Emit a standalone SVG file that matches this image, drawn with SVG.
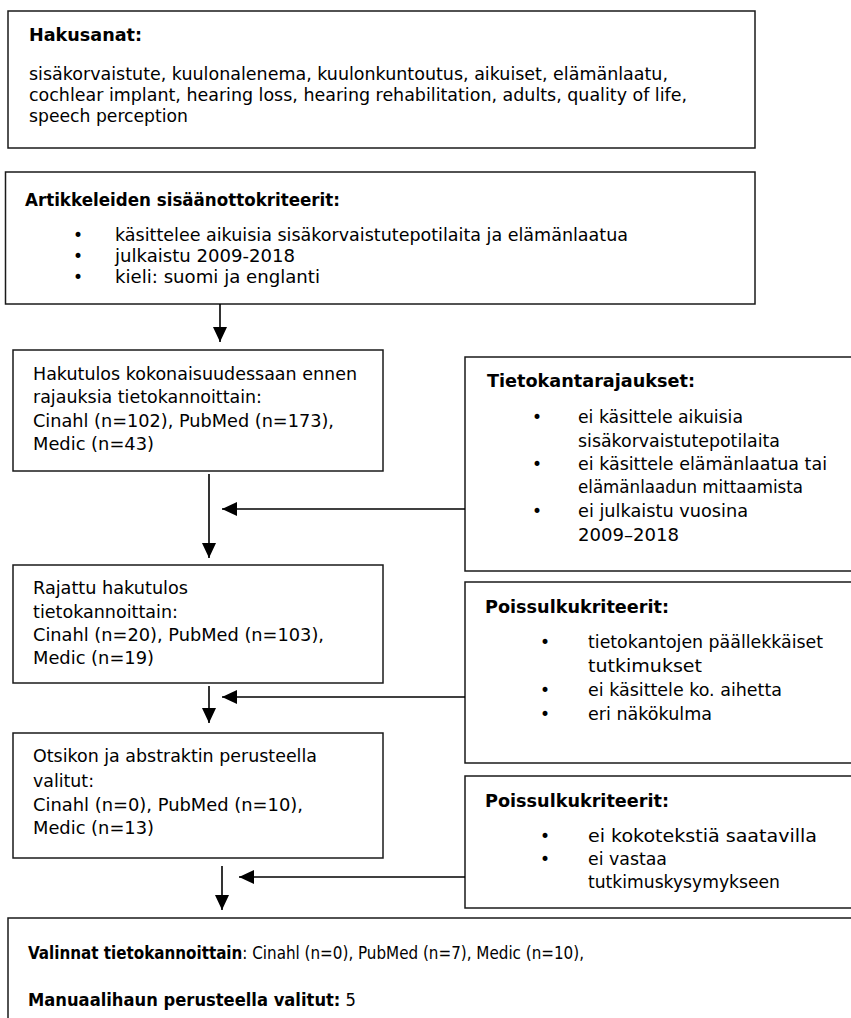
<svg xmlns="http://www.w3.org/2000/svg" width="851" height="1018" viewBox="0 0 851 1018">
<style>
.box{fill:#fff;stroke:#1a1a1a;stroke-width:1.5}
.t{font-family:"DejaVu Sans",Verdana,sans-serif;font-size:17px;fill:#000}
.b{font-weight:bold}
.c{font-family:"DejaVu Sans Condensed","DejaVu Sans",sans-serif;font-size:18px}
.con{stroke:#000;stroke-width:1.6;fill:none}
</style>
<defs>
<marker id="ah" markerUnits="userSpaceOnUse" markerWidth="16" markerHeight="14" refX="15" refY="7" orient="auto">
<path d="M0,0 L15,7 L0,14 Z" fill="#000"/>
</marker>
</defs>
<rect width="851" height="1018" fill="#fff"/>

<g id="hakusanat">
<rect class="box" x="8" y="11" width="747" height="137"/>
<text class="t b" x="29" y="41" textLength="113" lengthAdjust="spacingAndGlyphs">Hakusanat:</text>
<text class="t" x="29" y="80" textLength="639" lengthAdjust="spacingAndGlyphs">sisäkorvaistute, kuulonalenema, kuulonkuntoutus, aikuiset, elämänlaatu,</text>
<text class="t" x="29" y="101" textLength="658" lengthAdjust="spacingAndGlyphs">cochlear implant, hearing loss, hearing rehabilitation, adults, quality of life,</text>
<text class="t" x="29" y="122" textLength="159" lengthAdjust="spacingAndGlyphs">speech perception</text>
</g>

<g id="sisaanotto">
<rect class="box" x="5.5" y="172" width="749.5" height="132"/>
<text class="t b" x="25" y="206" textLength="315" lengthAdjust="spacingAndGlyphs">Artikkeleiden sisäänottokriteerit:</text>
<text class="t" x="78" y="241" text-anchor="middle">•</text>
<text class="t" x="115" y="241" textLength="513" lengthAdjust="spacingAndGlyphs">käsittelee aikuisia sisäkorvaistutepotilaita ja elämänlaatua</text>
<text class="t" x="78" y="262" text-anchor="middle">•</text>
<text class="t" x="115" y="262" textLength="180" lengthAdjust="spacingAndGlyphs">julkaistu 2009-2018</text>
<text class="t" x="78" y="283" text-anchor="middle">•</text>
<text class="t" x="115" y="283" textLength="205" lengthAdjust="spacingAndGlyphs">kieli: suomi ja englanti</text>
</g>

<g id="hakutulos">
<rect class="box" x="13" y="350" width="370" height="121"/>
<text class="t" x="33" y="380" textLength="324" lengthAdjust="spacingAndGlyphs">Hakutulos kokonaisuudessaan ennen</text>
<text class="t" x="33" y="403" textLength="229" lengthAdjust="spacingAndGlyphs">rajauksia tietokannoittain:</text>
<text class="t" x="33" y="427" textLength="301" lengthAdjust="spacingAndGlyphs">Cinahl (n=102), PubMed (n=173),</text>
<text class="t" x="33" y="450" textLength="121" lengthAdjust="spacingAndGlyphs">Medic (n=43)</text>
</g>

<g id="tietokantarajaukset">
<rect class="box" x="465" y="357" width="400" height="214"/>
<text class="t b" x="487" y="387" textLength="208" lengthAdjust="spacingAndGlyphs">Tietokantarajaukset:</text>
<text class="t" x="537" y="423" text-anchor="middle">•</text>
<text class="t" x="578" y="423" textLength="165" lengthAdjust="spacingAndGlyphs">ei käsittele aikuisia</text>
<text class="t" x="578" y="447" textLength="202" lengthAdjust="spacingAndGlyphs">sisäkorvaistutepotilaita</text>
<text class="t" x="537" y="470" text-anchor="middle">•</text>
<text class="t" x="578" y="470" textLength="249" lengthAdjust="spacingAndGlyphs">ei käsittele elämänlaatua tai</text>
<text class="t" x="578" y="493" textLength="225" lengthAdjust="spacingAndGlyphs">elämänlaadun mittaamista</text>
<text class="t" x="537" y="517" text-anchor="middle">•</text>
<text class="t" x="578" y="517" textLength="170" lengthAdjust="spacingAndGlyphs">ei julkaistu vuosina</text>
<text class="t" x="578" y="541" textLength="101" lengthAdjust="spacingAndGlyphs">2009–2018</text>
</g>

<g id="rajattu">
<rect class="box" x="13" y="565" width="370" height="118"/>
<text class="t" x="33" y="594" textLength="155" lengthAdjust="spacingAndGlyphs">Rajattu hakutulos</text>
<text class="t" x="33" y="618" textLength="145" lengthAdjust="spacingAndGlyphs">tietokannoittain:</text>
<text class="t" x="33" y="641" textLength="291" lengthAdjust="spacingAndGlyphs">Cinahl (n=20), PubMed (n=103),</text>
<text class="t" x="33" y="664" textLength="121" lengthAdjust="spacingAndGlyphs">Medic (n=19)</text>
</g>

<g id="poissulku1">
<rect class="box" x="465" y="582" width="400" height="181"/>
<text class="t b" x="485" y="613" textLength="184" lengthAdjust="spacingAndGlyphs">Poissulkukriteerit:</text>
<text class="t" x="545" y="648" text-anchor="middle">•</text>
<text class="t" x="588" y="648" textLength="235" lengthAdjust="spacingAndGlyphs">tietokantojen päällekkäiset</text>
<text class="t" x="588" y="672" textLength="114" lengthAdjust="spacingAndGlyphs">tutkimukset</text>
<text class="t" x="545" y="696" text-anchor="middle">•</text>
<text class="t" x="588" y="696" textLength="194" lengthAdjust="spacingAndGlyphs">ei käsittele ko. aihetta</text>
<text class="t" x="545" y="720" text-anchor="middle">•</text>
<text class="t" x="588" y="720" textLength="124" lengthAdjust="spacingAndGlyphs">eri näkökulma</text>
</g>

<g id="otsikko">
<rect class="box" x="13" y="733" width="370" height="125"/>
<text class="t" x="33" y="762" textLength="284" lengthAdjust="spacingAndGlyphs">Otsikon ja abstraktin perusteella</text>
<text class="t" x="33" y="787" textLength="61" lengthAdjust="spacingAndGlyphs">valitut:</text>
<text class="t" x="33" y="811" textLength="270" lengthAdjust="spacingAndGlyphs">Cinahl (n=0), PubMed (n=10),</text>
<text class="t" x="33" y="834" textLength="121" lengthAdjust="spacingAndGlyphs">Medic (n=13)</text>
</g>

<g id="poissulku2">
<rect class="box" x="465" y="776" width="400" height="132"/>
<text class="t b" x="485" y="807" textLength="184" lengthAdjust="spacingAndGlyphs">Poissulkukriteerit:</text>
<text class="t" x="545" y="842" text-anchor="middle">•</text>
<text class="t" x="588" y="842" textLength="229" lengthAdjust="spacingAndGlyphs">ei kokotekstiä saatavilla</text>
<text class="t" x="545" y="865" text-anchor="middle">•</text>
<text class="t" x="588" y="865" textLength="79" lengthAdjust="spacingAndGlyphs">ei vastaa</text>
<text class="t" x="588" y="888" textLength="192" lengthAdjust="spacingAndGlyphs">tutkimuskysymykseen</text>
</g>

<g id="valinnat">
<rect class="box" x="8" y="918" width="860" height="130"/>
<text class="t c" x="28" y="959" textLength="556" lengthAdjust="spacingAndGlyphs"><tspan class="b">Valinnat tietokannoittain</tspan>: Cinahl (n=0), PubMed (n=7), Medic (n=10),</text>
<text class="t c" x="28" y="1006" textLength="328" lengthAdjust="spacingAndGlyphs"><tspan class="b">Manuaalihaun perusteella valitut:</tspan> 5</text>
</g>

<g id="connectors">
<line class="con" x1="220" y1="304" x2="220" y2="342" marker-end="url(#ah)"/>
<line class="con" x1="209" y1="474" x2="209" y2="558" marker-end="url(#ah)"/>
<line class="con" x1="465" y1="509" x2="222" y2="509" marker-end="url(#ah)"/>
<line class="con" x1="209" y1="686" x2="209" y2="723" marker-end="url(#ah)"/>
<line class="con" x1="465" y1="697" x2="222" y2="697" marker-end="url(#ah)"/>
<line class="con" x1="222" y1="866" x2="222" y2="910" marker-end="url(#ah)"/>
<line class="con" x1="465" y1="877" x2="239" y2="877" marker-end="url(#ah)"/>
</g>
</svg>
